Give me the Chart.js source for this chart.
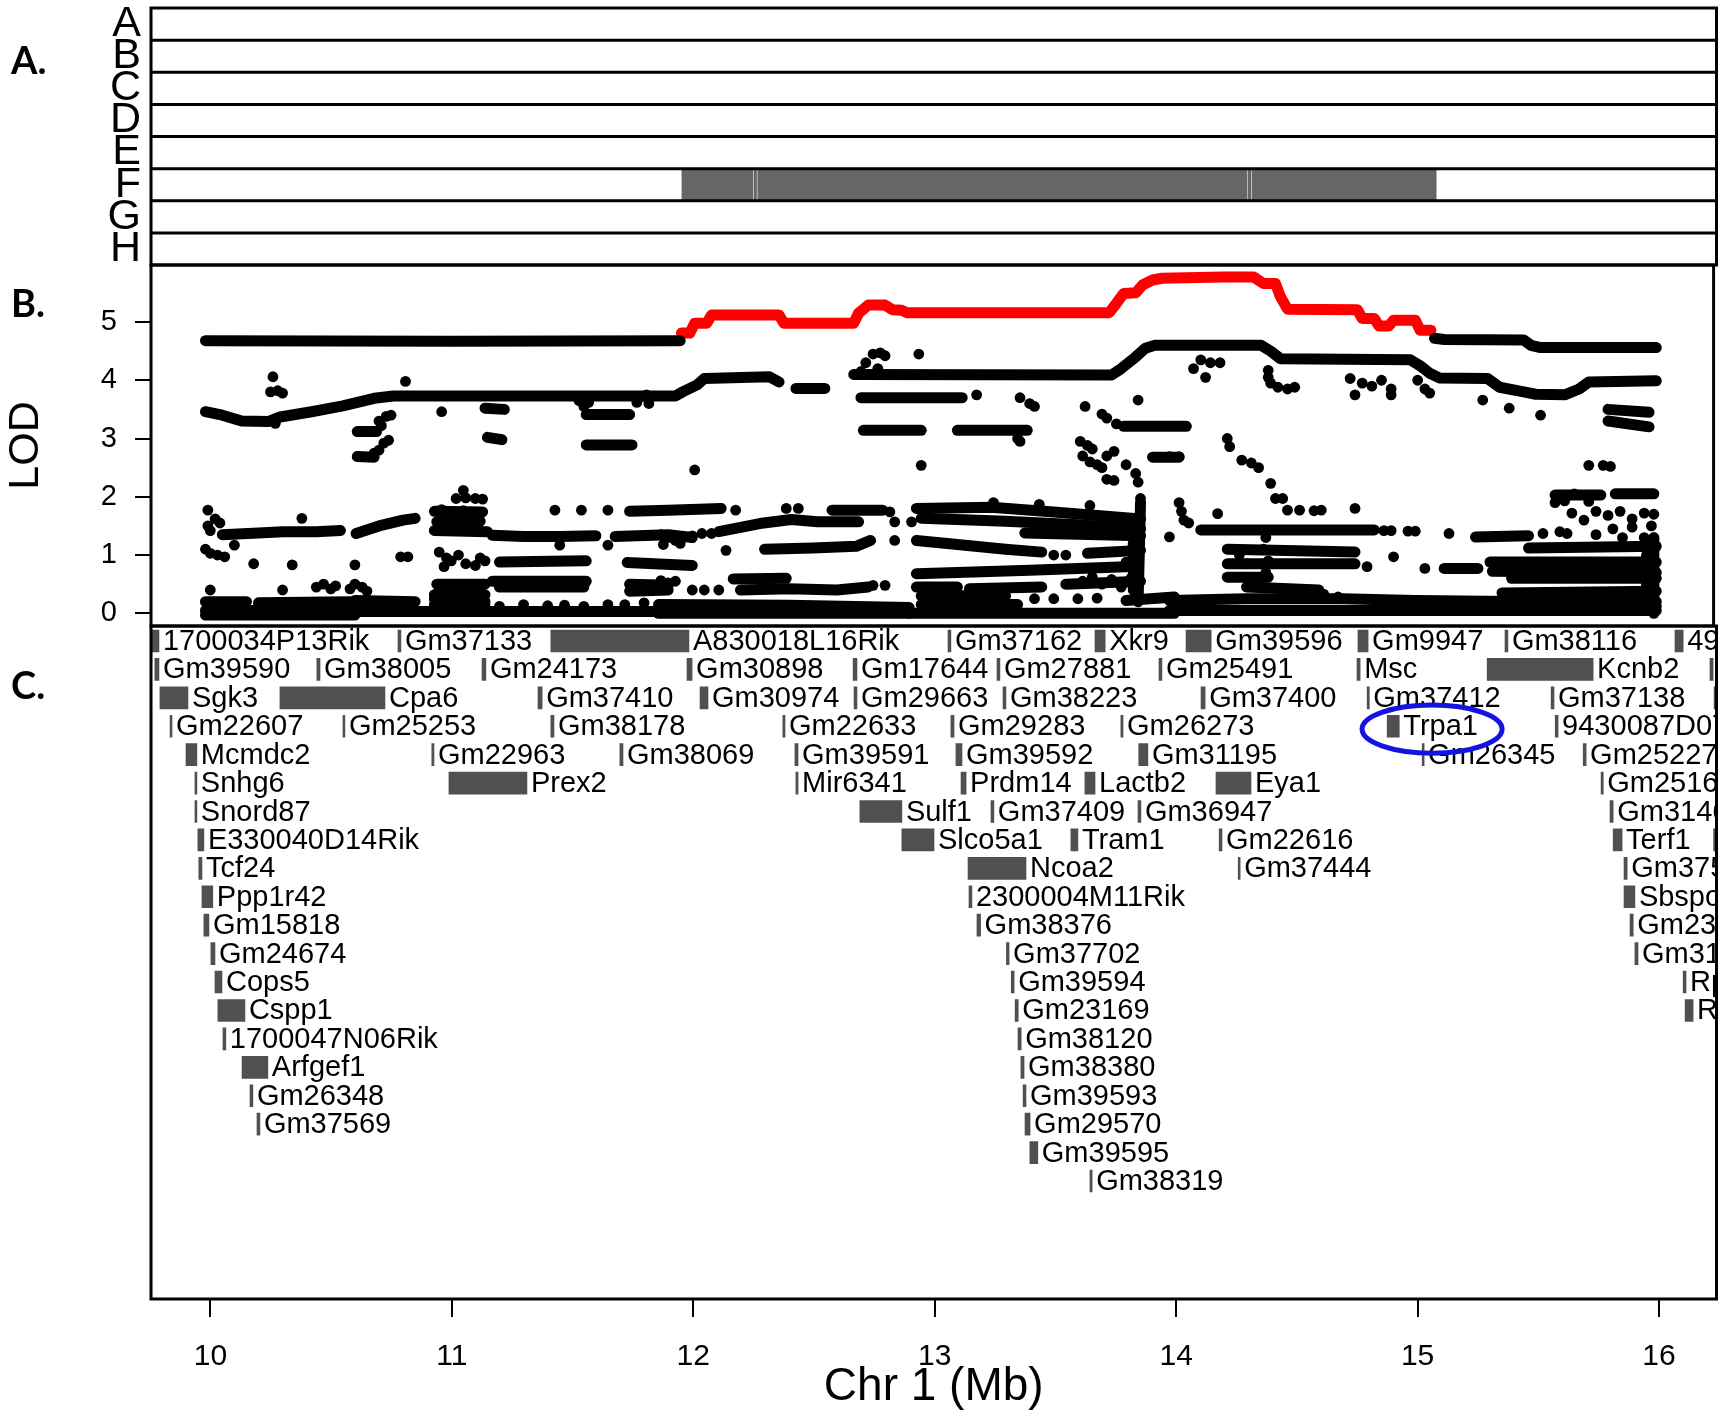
<!DOCTYPE html>
<html><head><meta charset="utf-8">
<script src="https://cdn.jsdelivr.net/npm/chart.js@4.4.1/dist/chart.umd.min.js"></script>
<style>
html,body{margin:0;padding:0;background:#fff;}
#wrap{position:relative;width:1719px;height:1411px;overflow:hidden;background:#fff;}
canvas{position:absolute;left:0;top:0;width:1719px;height:1411px;}
.plab{position:absolute;font-family:Lato,'Open Sans',sans-serif;font-weight:700;font-size:38px;line-height:1;color:#000;}
</style></head><body>
<div id="wrap">
<canvas id="cA" width="1719" height="1411"></canvas>
<canvas id="cB" width="1719" height="1411"></canvas>
<canvas id="cC" width="1719" height="1411"></canvas>
<div class="plab" style="left:11px;top:40px">A.</div>
<div class="plab" style="left:11px;top:283px">B.</div>
<div class="plab" style="left:11px;top:665px">C.</div>
</div>
<script>
// ---------------- data ----------------
const X_MIN = 9.754, X_MAX = 16.238;
const xTicks = [10, 11, 12, 13, 14, 15, 16];
const lodTicks = [0, 1, 2, 3, 4, 5];
const haplotypes = ['A', 'B', 'C', 'D', 'E', 'F', 'G', 'H'];
const haplotypeFBlocks = [[11.953, 12.247], [12.252, 12.262], [12.267, 14.294], [14.299, 14.309], [14.314, 15.077]];

// LOD traces (Mb, LOD)
const lodTopLeft = [[9.98, 4.68], [11.0, 4.67], [11.95, 4.68]];
const lodRed = [[11.955, 4.81], [11.99, 4.81], [12.01, 4.98], [12.06, 4.98], [12.08, 5.12], [12.36, 5.12], [12.38, 4.98], [12.67, 4.98], [12.69, 5.15], [12.73, 5.29], [12.80, 5.29], [12.83, 5.21], [12.87, 5.2], [12.89, 5.16], [13.73, 5.16], [13.76, 5.32], [13.79, 5.49], [13.84, 5.5], [13.87, 5.64], [13.91, 5.72], [13.95, 5.75], [14.2, 5.77], [14.33, 5.77], [14.37, 5.66], [14.42, 5.66], [14.44, 5.44], [14.47, 5.22], [14.76, 5.21], [14.78, 5.06], [14.83, 5.06], [14.85, 4.93], [14.89, 4.93], [14.91, 5.03], [15.0, 5.03], [15.02, 4.86], [15.065, 4.86]];
const lodTopRight = [[15.08, 4.72], [15.12, 4.70], [15.45, 4.69], [15.48, 4.6], [15.52, 4.56], [16.0, 4.56]];
const lodSecondLeft = [[9.98, 3.46], [10.05, 3.4], [10.13, 3.3], [10.24, 3.29], [10.29, 3.37], [10.42, 3.46], [10.55, 3.56], [10.68, 3.69], [10.76, 3.73], [11.93, 3.73], [11.96, 3.8], [12.02, 3.92], [12.05, 4.03], [12.32, 4.06], [12.36, 3.97]];
const lodSecondRight = [[12.67, 4.1], [13.74, 4.09], [13.78, 4.2], [13.84, 4.4], [13.88, 4.55], [13.92, 4.6], [14.36, 4.6], [14.4, 4.5], [14.44, 4.37], [14.98, 4.35], [15.02, 4.25], [15.06, 4.12], [15.1, 4.04], [15.3, 4.03], [15.35, 3.88], [15.45, 3.8], [15.5, 3.76], [15.62, 3.75], [15.68, 3.85], [15.72, 3.97], [16.0, 3.99]];
const lodMidBands = [
  [[10.61, 3.12], [10.69, 3.12]], [[10.61, 2.69], [10.68, 2.68]], [[11.56, 3.41], [11.74, 3.41]], [[11.56, 2.89], [11.75, 2.89]],
  [[12.70, 3.70], [13.12, 3.70]], [[12.71, 3.14], [12.95, 3.14]], [[13.10, 3.14], [13.39, 3.14]], [[13.79, 3.21], [14.05, 3.21]],
  [[15.83, 2.05], [15.99, 2.05]], [[15.58, 2.03], [15.77, 2.03]], [[12.43, 3.86], [12.55, 3.86]], [[11.14, 3.52], [11.22, 3.5]],
  [[11.15, 3.02], [11.21, 2.98]], [[13.91, 2.68], [14.02, 2.68]], [[15.80, 3.5], [15.97, 3.45]], [[15.80, 3.3], [15.97, 3.2]]
];
const lodLowBands = [
  [[10.05, 1.35], [10.2, 1.38], [10.3, 1.40], [10.44, 1.40], [10.54, 1.42]], [[10.605, 1.37], [10.7, 1.5], [10.8, 1.6], [10.85, 1.63]],
  [[10.93, 1.42], [11.15, 1.40]], [[10.93, 1.75], [11.13, 1.74]], [[10.94, 1.57], [11.12, 1.58]], [[11.17, 1.34], [11.3, 1.32], [11.45, 1.32], [11.6, 1.33]],
  [[11.74, 1.75], [11.9, 1.77], [12.12, 1.8]], [[11.68, 1.32], [11.9, 1.35], [12.0, 1.3]], [[11.2, 0.88], [11.56, 0.9]], [[11.73, 0.87], [12.0, 0.82]],
  [[11.17, 0.55], [11.56, 0.55]], [[11.2, 0.45], [11.55, 0.45]], [[10.94, 0.5], [11.14, 0.5]], [[10.95, 0.4], [11.12, 0.42]],
  [[11.74, 0.5], [11.9, 0.48]], [[11.74, 0.38], [11.9, 0.4]], [[9.98, 0.2], [10.15, 0.2]], [[10.2, 0.18], [10.58, 0.2]],
  [[10.6, 0.22], [10.85, 0.2]], [[10.93, 0.25], [11.14, 0.2]], [[10.93, 0.32], [11.14, 0.32]], [[10.93, 0.15], [11.14, 0.12]],
  [[9.98, 0.05], [10.6, 0.05]], [[9.98, -0.03], [10.6, -0.03]], [[10.6, 0.03], [11.86, 0.03]],
  [[12.11, 1.4], [12.28, 1.54], [12.41, 1.61], [12.52, 1.57], [12.69, 1.57]], [[12.58, 1.77], [12.79, 1.77]],
  [[12.93, 1.8], [13.24, 1.82], [13.5, 1.74], [13.86, 1.62]], [[12.95, 1.63], [13.3, 1.58], [13.6, 1.52], [13.86, 1.45]],
  [[13.38, 1.38], [13.86, 1.33]], [[12.3, 1.1], [12.5, 1.12], [12.68, 1.15], [12.74, 1.25]], [[12.93, 1.25], [13.1, 1.18], [13.3, 1.1], [13.45, 1.05]],
  [[13.64, 1.03], [13.86, 1.08]], [[12.93, 0.68], [13.4, 0.74], [13.8, 0.8]], [[12.17, 0.59], [12.39, 0.6]],
  [[12.2, 0.4], [12.4, 0.42], [12.6, 0.4], [12.73, 0.45]], [[12.93, 0.45], [13.1, 0.45]], [[13.15, 0.42], [13.45, 0.45]],
  [[11.86, 0.15], [12.4, 0.14], [12.9, 0.1]], [[11.86, 0.0], [12.9, 0.0]], [[12.9, 0.0], [14.0, 0.0]], [[12.95, 0.3], [13.3, 0.3]],
  [[12.95, 0.15], [13.35, 0.15]], [[13.55, 0.5], [13.86, 0.55]], [[13.8, 0.22], [14.0, 0.28]],
  [[13.85, 0.2], [13.86, 1.9]], [[13.83, 0.4], [13.83, 1.2]],
  [[14.11, 1.43], [14.83, 1.43]], [[15.25, 1.31], [15.47, 1.33]], [[14.22, 1.1], [14.75, 1.05]], [[14.22, 0.85], [14.75, 0.85]],
  [[15.12, 0.77], [15.26, 0.77]], [[14.22, 0.62], [14.39, 0.62]], [[15.31, 0.88], [16.0, 0.88]], [[15.32, 0.72], [16.0, 0.7]],
  [[15.4, 0.6], [16.0, 0.6]], [[15.47, 1.12], [16.0, 1.15]], [[14.3, 0.45], [14.6, 0.4]],
  [[13.98, 0.22], [14.3, 0.25], [14.7, 0.25], [15.0, 0.22], [15.5, 0.2], [16.0, 0.2]], [[13.98, 0.05], [16.0, 0.05]],
  [[15.36, 0.35], [16.0, 0.38]], [[15.36, 0.12], [16.0, 0.12]], [[15.99, 0.0], [15.99, 1.3]], [[15.96, 0.1], [15.96, 1.0]]
];
const lodDots = [
  [10.26, 4.06], [10.25, 3.8], [10.28, 3.82], [10.3, 3.78], [10.27, 3.26], [10.81, 3.98], [10.96, 3.46], [12.01, 2.46],
  [10.70, 3.30], [10.73, 3.38], [10.75, 3.40], [10.71, 3.22], [10.72, 2.92], [10.74, 2.97], [10.70, 2.8], [10.68, 2.75],
  [11.53, 3.65], [11.55, 3.72], [11.57, 3.62], [11.55, 3.55], [11.77, 3.62], [11.79, 3.72], [11.81, 3.75], [11.82, 3.6],
  [12.70, 4.15], [12.72, 4.30], [12.75, 4.45], [12.78, 4.47], [12.80, 4.42], [12.77, 4.2], [12.94, 4.45],
  [13.18, 3.75], [13.36, 3.7], [13.40, 3.6], [13.42, 3.55], [13.35, 3.0], [13.36, 2.95],
  [12.95, 2.54], [13.63, 3.55], [13.85, 3.66], [13.70, 3.42], [13.72, 3.35], [13.76, 3.25],
  [13.61, 2.95], [13.64, 2.88], [13.66, 2.82], [13.62, 2.70], [13.65, 2.60], [13.68, 2.55], [13.70, 2.50], [13.72, 2.70], [13.75, 2.78], [13.80, 2.55], [13.84, 2.40], [13.85, 2.25], [13.72, 2.30], [13.75, 2.28], [13.86, 1.97],
  [14.22, 3.0], [14.23, 2.86], [14.28, 2.63], [14.32, 2.58], [14.35, 2.50], [14.40, 2.23], [14.42, 1.97], [14.45, 1.97],
  [14.08, 4.2], [14.11, 4.35], [14.15, 4.3], [14.13, 4.05], [14.19, 4.3],
  [14.39, 4.17], [14.39, 4.05], [14.40, 3.95], [14.43, 3.88], [14.47, 3.85], [14.50, 3.88],
  [14.73, 4.03], [14.78, 3.95], [14.82, 3.9], [14.86, 4.0], [14.9, 3.85], [14.9, 3.75], [14.75, 3.75],
  [15.01, 4.0], [15.04, 3.85], [15.06, 3.78], [15.28, 3.66], [15.39, 3.52], [15.52, 3.4],
  [15.72, 2.54], [15.78, 2.54], [15.81, 2.52], [13.98, 2.69], [14.02, 2.69],
  [9.99, 1.77], [10.02, 1.62], [10.04, 1.55], [9.99, 1.5], [10.0, 1.42], [10.1, 1.17], [10.38, 1.63],
  [11.05, 2.11], [11.02, 1.97], [11.06, 1.98], [11.10, 1.97], [11.13, 1.96], [10.96, 1.78], [11.05, 1.76], [10.98, 1.6], [11.02, 1.55],
  [11.43, 1.77], [11.54, 1.77], [11.65, 1.77], [11.45, 1.17], [11.65, 1.17],
  [9.98, 1.1], [10.0, 1.03], [10.03, 1.0], [10.06, 0.97],
  [10.18, 0.85], [10.34, 0.83], [10.6, 0.83], [10.79, 0.97], [10.82, 0.97],
  [10.95, 1.05], [10.98, 0.95], [11.0, 0.9], [11.03, 1.0], [11.06, 0.85], [11.1, 0.82], [11.12, 0.95], [11.14, 0.9], [10.97, 0.8],
  [10.0, 0.4], [10.3, 0.4], [10.44, 0.45], [10.47, 0.5], [10.5, 0.42], [10.52, 0.47], [10.58, 0.42], [10.6, 0.5], [10.63, 0.45], [10.65, 0.38],
  [11.2, 0.12], [11.3, 0.15], [11.4, 0.13], [11.47, 0.14], [11.55, 0.12], [11.65, 0.15], [11.72, 0.15], [11.8, 0.18],
  [12.18, 1.77], [12.39, 1.8], [12.44, 1.8], [12.82, 1.74], [12.84, 1.57], [12.91, 1.57],
  [13.25, 1.9], [13.44, 1.87], [13.65, 1.85], [13.42, 1.42],
  [11.87, 1.35], [11.9, 1.3], [11.93, 1.25], [11.88, 1.18], [11.95, 1.2], [12.0, 1.33], [12.04, 1.37], [12.08, 1.37], [12.14, 1.08], [12.84, 1.25],
  [13.5, 1.0], [13.55, 1.0], [13.84, 1.2],
  [13.62, 0.55], [13.66, 0.62], [13.70, 0.5], [13.74, 0.58], [13.78, 0.45], [13.82, 0.6], [13.84, 0.9], [13.80, 0.88], [13.85, 0.7],
  [11.87, 0.56], [11.9, 0.52], [11.93, 0.55], [12.0, 0.4], [12.05, 0.4], [12.11, 0.4], [12.75, 0.48], [12.8, 0.48],
  [13.42, 0.25], [13.5, 0.25], [13.6, 0.25], [13.68, 0.26],
  [14.02, 1.9], [14.03, 1.75], [14.04, 1.6], [14.06, 1.55], [13.98, 1.31], [14.18, 1.71],
  [14.47, 1.77], [14.52, 1.77], [14.58, 1.76], [14.61, 1.77], [14.75, 1.8],
  [14.87, 1.42], [14.9, 1.42], [14.97, 1.41], [15.0, 1.41], [15.14, 1.37], [15.53, 1.37], [15.6, 1.4], [15.63, 1.37],
  [15.58, 1.9], [15.62, 1.93], [15.66, 2.05], [15.72, 1.92],
  [15.65, 1.72], [15.7, 1.6], [15.75, 1.75], [15.8, 1.68], [15.85, 1.75], [15.9, 1.62], [15.95, 1.72], [15.99, 1.7], [15.82, 1.45], [15.9, 1.48], [15.98, 1.5], [15.86, 1.3], [15.95, 1.3], [15.75, 1.35],
  [14.91, 0.97], [14.8, 0.8], [15.04, 0.77],
  [14.35, 0.5], [14.45, 0.35], [14.55, 0.3], [14.62, 0.33], [14.68, 0.28],
  [14.38, 1.3], [14.37, 1.1], [14.39, 0.9], [14.38, 0.7], [14.27, 1.0], [14.3, 0.85]
];

// genes: [name, start Mb, end Mb, track row]
const genes = [
  ['1700034P13Rik', 9.70, 9.787, 1], ['Gm37133', 10.777, 10.789, 1], ['A830018L16Rik', 11.41, 11.982, 1], ['Gm37162', 13.055, 13.067, 1],
  ['Xkr9', 13.664, 13.706, 1], ['Gm39596', 14.041, 14.145, 1], ['Gm9947', 14.753, 14.795, 1], ['Gm38116', 15.362, 15.374, 1], ['4930444P10Rik', 16.066, 16.10, 1],
  ['Gm39590', 9.77, 9.787, 2], ['Gm38005', 10.441, 10.454, 2], ['Gm24173', 11.125, 11.141, 2], ['Gm30898', 11.974, 11.995, 2], ['Gm17644', 12.662, 12.678, 2],
  ['Gm27881', 13.258, 13.27, 2], ['Gm25491', 13.929, 13.941, 2], ['Msc', 14.749, 14.762, 2], ['Kcnb2', 15.288, 15.727, 2], ['', 16.211, 16.224, 2],
  ['Sgk3', 9.791, 9.907, 3], ['Cpa6', 10.288, 10.723, 3], ['Gm37410', 11.357, 11.374, 3], ['Gm30974', 12.028, 12.061, 3], ['Gm29663', 12.666, 12.678, 3],
  ['Gm38223', 13.283, 13.295, 3], ['Gm37400', 14.103, 14.12, 3], ['Gm37412', 14.791, 14.80, 3], ['Gm37138', 15.553, 15.565, 3], ['', 16.228, 16.24, 3],
  ['Gm22607', 9.833, 9.841, 4], ['Gm25253', 10.549, 10.557, 4], ['Gm38178', 11.41, 11.423, 4], ['Gm22633', 12.371, 12.38, 4], ['Gm29283', 13.067, 13.08, 4],
  ['Gm26273', 13.771, 13.78, 4], ['Trpa1', 14.874, 14.924, 4], ['9430087D07Rik', 15.57, 15.582, 4],
  ['Mcmdc2', 9.899, 9.944, 5], ['Gm22963', 10.917, 10.926, 5], ['Gm38069', 11.696, 11.709, 5], ['Gm39591', 12.421, 12.434, 5], ['Gm39592', 13.088, 13.113, 5],
  ['Gm31195', 13.845, 13.883, 5], ['Gm26345', 15.019, 15.027, 5], ['Gm25227', 15.686, 15.698, 5],
  ['Snhg6', 9.936, 9.944, 6], ['Prex2', 10.988, 11.311, 6], ['Mir6341', 12.425, 12.434, 6], ['Prdm14', 13.109, 13.13, 6], ['Lactb2', 13.622, 13.664, 6],
  ['Eya1', 14.165, 14.31, 6], ['Gm25164', 15.76, 15.769, 6],
  ['Snord87', 9.936, 9.944, 7], ['Sulf1', 12.69, 12.864, 7], ['Gm37409', 13.233, 13.245, 7], ['Gm36947', 13.842, 13.854, 7], ['Gm31467', 15.797, 15.81, 7],
  ['E330040D14Rik', 9.948, 9.973, 8], ['Slco5a1', 12.864, 12.997, 8], ['Tram1', 13.564, 13.593, 8], ['Gm22616', 14.178, 14.19, 8], ['Terf1', 15.81, 15.847, 8], ['', 16.226, 16.24, 8],
  ['Tcf24', 9.952, 9.965, 9], ['Ncoa2', 13.138, 13.378, 9], ['Gm37444', 14.257, 14.265, 9], ['Gm37535', 15.855, 15.868, 9],
  ['Ppp1r42', 9.965, 10.01, 10], ['2300004M11Rik', 13.142, 13.154, 10], ['Sbspon', 15.855, 15.90, 10],
  ['Gm15818', 9.973, 9.994, 11], ['Gm38376', 13.175, 13.19, 11], ['Gm23778', 15.88, 15.893, 11],
  ['Gm24674', 10.002, 10.019, 12], ['Gm37702', 13.297, 13.308, 12], ['Gm31365', 15.90, 15.913, 12],
  ['Cops5', 10.019, 10.048, 13], ['Gm39594', 13.317, 13.329, 13], ['Rpl7', 16.10, 16.112, 13],
  ['Cspp1', 10.031, 10.143, 14], ['Gm23169', 13.333, 13.346, 14], ['Rdh10', 16.108, 16.141, 14],
  ['1700047N06Rik', 10.052, 10.064, 15], ['Gm38120', 13.345, 13.358, 15],
  ['Arfgef1', 10.131, 10.238, 16], ['Gm38380', 13.357, 13.37, 16],
  ['Gm26348', 10.164, 10.176, 17], ['Gm39593', 13.366, 13.378, 17],
  ['Gm37569', 10.193, 10.205, 18], ['Gm29570', 13.374, 13.395, 18],
  ['Gm39595', 13.394, 13.427, 19],
  ['Gm38319', 13.643, 13.652, 20]
];
const highlightGene = {cx: 15.06, cy: 4.1, rx: 0.29, ry: 0.85};

// ---------------- rendering ----------------
const FONT = "'Liberation Sans', Arial, Helvetica, sans-serif";
const W = 1719, H = 1411;
const PANEL_A = {top: 8, bottom: 265};
const PANEL_B = {top: 265, bottom: 626};
const PANEL_C = {top: 626, bottom: 1299};
const RIGHT_PAD = 2.5;

const base = () => ({
  responsive: false, animation: false, devicePixelRatio: 1,
  plugins: {legend: {display: false}, tooltip: {enabled: false}}
});

const framePlugin = {
  id: 'frame',
  afterDraw(chart) {
    const {ctx, chartArea: a} = chart;
    ctx.save();
    ctx.strokeStyle = '#000'; ctx.lineWidth = 3;
    ctx.strokeRect(a.left, a.top, a.right - a.left, a.bottom - a.top);
    ctx.restore();
  }
};

const rowLinesPlugin = {
  id: 'rowLines',
  afterDraw(chart) {
    const {ctx, chartArea: a, scales: {y}} = chart;
    ctx.save();
    ctx.strokeStyle = '#000'; ctx.lineWidth = 3;
    for (let i = 1; i < haplotypes.length; i++) {
      const py = y.getPixelForValue(i - 0.5);
      ctx.beginPath(); ctx.moveTo(a.left, py); ctx.lineTo(a.right, py); ctx.stroke();
    }
    ctx.restore();
  }
};

new Chart(document.getElementById('cA'), {
  type: 'bar',
  data: {
    labels: haplotypes,
    datasets: [{
      data: haplotypeFBlocks.map(b => ({x: [b[0], b[1]], y: 'F'})),
      backgroundColor: '#666666', borderWidth: 0, barPercentage: 1, categoryPercentage: 1
    }]
  },
  options: Object.assign(base(), {
    indexAxis: 'y',
    layout: {padding: {top: PANEL_A.top, bottom: H - PANEL_A.bottom, left: 0, right: RIGHT_PAD}},
    scales: {
      x: {type: 'linear', min: X_MIN, max: X_MAX, display: false},
      y: {
        type: 'category', offset: true,
        grid: {display: false, drawTicks: false}, border: {display: false},
        ticks: {color: '#000', font: {family: FONT, size: 43, lineHeight: 1}, padding: 10, autoSkip: false},
        afterFit(s) { s.width = 151; s.paddingTop = 0; s.paddingBottom = 0; }
      }
    }
  }),
  plugins: [rowLinesPlugin, framePlugin]
});

const toXY = arr => arr.map(p => ({x: p[0], y: p[1]}));
const traceDs = (pts, color) => ({
  data: toXY(pts), showLine: true, borderColor: color, backgroundColor: color,
  borderWidth: 11, pointRadius: 0, borderCapStyle: 'round', borderJoinStyle: 'round', tension: 0
});
const bDatasets = [];
lodLowBands.forEach(b => bDatasets.push(traceDs(b, '#000')));
lodMidBands.forEach(b => bDatasets.push(traceDs(b, '#000')));
bDatasets.push({data: toXY(lodDots), showLine: false, pointRadius: 5.4, backgroundColor: '#000', borderWidth: 0});
[lodTopLeft, lodSecondLeft, lodSecondRight, lodTopRight].forEach(b => bDatasets.push(traceDs(b, '#000')));
bDatasets.push(traceDs(lodRed, '#ff0000'));

new Chart(document.getElementById('cB'), {
  type: 'scatter',
  data: {datasets: bDatasets},
  options: Object.assign(base(), {
    layout: {padding: {top: PANEL_B.top, bottom: H - PANEL_B.bottom, left: 0, right: RIGHT_PAD}},
    scales: {
      x: {type: 'linear', min: X_MIN, max: X_MAX, display: false},
      y: {
        type: 'linear', min: -0.218, max: 5.978,
        afterBuildTicks(s) { s.ticks = lodTicks.map(v => ({value: v})); },
        grid: {drawOnChartArea: false, drawTicks: true, tickLength: 16, color: '#000', lineWidth: 2},
        border: {display: false},
        ticks: {color: '#000', font: {family: FONT, size: 29}, padding: 18, autoSkip: false},
        title: {display: true, text: 'LOD', color: '#000', font: {family: FONT, size: 43}, padding: 0},
        afterFit(s) { s.width = 151; s.paddingTop = 0; s.paddingBottom = 0; }
      }
    }
  }),
  plugins: [framePlugin]
});

const geneLabelPlugin = {
  id: 'geneLabels',
  afterDatasetsDraw(chart) {
    const {ctx, chartArea: a, scales: {x, y}} = chart;
    ctx.save();
    ctx.beginPath(); ctx.rect(a.left, a.top, a.right - a.left, a.bottom - a.top); ctx.clip();
    ctx.fillStyle = '#000';
    ctx.font = "29px " + FONT;
    ctx.textBaseline = 'middle'; ctx.textAlign = 'left';
    genes.forEach(g => {
      if (!g[0]) return;
      ctx.fillText(g[0], x.getPixelForValue(g[2]) + 4, y.getPixelForValue(g[3]) + 1);
    });
    ctx.restore();
    // highlight ellipse around the candidate gene
    const cx = x.getPixelForValue(highlightGene.cx), cy = y.getPixelForValue(highlightGene.cy);
    const rx = Math.abs(x.getPixelForValue(highlightGene.cx + highlightGene.rx) - cx);
    const ry = Math.abs(y.getPixelForValue(highlightGene.cy + highlightGene.ry) - cy);
    ctx.save();
    ctx.strokeStyle = '#1414e0'; ctx.lineWidth = 5;
    ctx.beginPath(); ctx.ellipse(cx, cy, rx, ry, 0, 0, Math.PI * 2); ctx.stroke();
    ctx.restore();
  }
};

new Chart(document.getElementById('cC'), {
  type: 'bar',
  data: {
    datasets: [{
      data: genes.map(g => ({x: [g[1], g[2]], y: g[3]})),
      backgroundColor: '#505050', borderWidth: 0, barThickness: 22
    }]
  },
  options: Object.assign(base(), {
    indexAxis: 'y',
    layout: {padding: {top: PANEL_C.top, bottom: 0, left: 151, right: RIGHT_PAD}},
    scales: {
      x: {
        type: 'linear', position: 'bottom', min: X_MIN, max: X_MAX,
        afterBuildTicks(s) { s.ticks = xTicks.map(v => ({value: v})); },
        grid: {drawOnChartArea: false, drawTicks: true, tickLength: 18, color: '#000', lineWidth: 2},
        border: {display: false},
        ticks: {color: '#000', font: {family: FONT, size: 30}, padding: 22, autoSkip: false, maxRotation: 0},
        title: {display: true, text: 'Chr 1 (Mb)', color: '#000', font: {family: FONT, size: 46}, padding: {top: 0, bottom: -4}},
        afterFit(s) { s.height = H - PANEL_C.bottom; }
      },
      y: {type: 'linear', min: 0.472, max: 24.153, reverse: true, display: false, offset: false}
    }
  }),
  plugins: [geneLabelPlugin, framePlugin]
});
</script>
</body></html>
